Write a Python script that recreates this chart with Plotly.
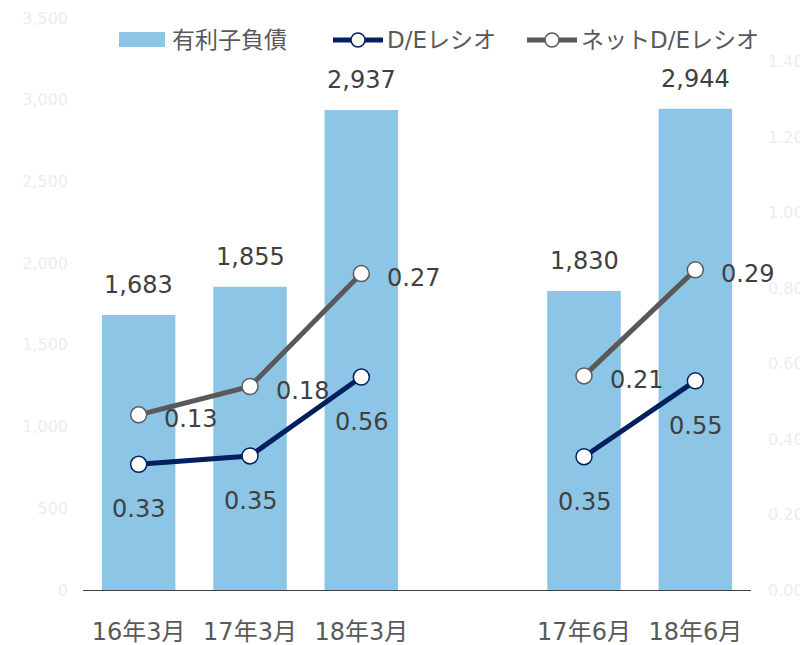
import plotly.graph_objects as go

categories = ["16年3月", "17年3月", "18年3月", " ", "17年6月", "18年6月"]
debt = [1683, 1855, 2937, None, 1830, 2944]
de_ratio = [0.333, 0.355, 0.564, None, 0.353, 0.554]
net_de_ratio = [0.131, 0.184, 0.274, None, 0.214, 0.294]
left_ticks = [0, 500, 1000, 1500, 2000, 2500, 3000, 3500]
right_ticks = [0.0, 0.2, 0.4, 0.6, 0.8, 1.0, 1.2, 1.4]
series_names = ["有利子負債", "D/Eレシオ", "ネットD/Eレシオ"]

# stacked line: net D/E drawn on top of D/E
net_stacked = [None if (a is None or b is None) else a + b for a, b in zip(de_ratio, net_de_ratio)]

FONT = "DejaVu Sans, Noto Sans CJK JP, sans-serif"
BAR = "#8DC5E6"
NAVY = "#002060"
GREY = "#595959"
LABEL = "#404040"
FAINT = "#EDEDED"

# the page body adds an 8px offset; figure is sized to fit the window
OFF = 8
W, H = 808 - OFF, 645 - OFF
ML, MR, MT, MB = 83 - OFF, 57, 18 - OFF, 55
PW, PH = W - ML - MR, H - MT - MB


def px(x):
    return (x - OFF - ML) / PW


def py(y):
    return (H - MB - (y - OFF)) / PH


fig = go.Figure()
fig.add_trace(go.Bar(
    x=categories, y=debt, name=series_names[0], marker=dict(color=BAR, line=dict(width=0)),
    yaxis="y", hoverinfo="skip", showlegend=False,
))
fig.add_trace(go.Scatter(
    x=categories, y=de_ratio, name=series_names[1], mode="lines+markers", yaxis="y2",
    line=dict(color=NAVY, width=5),
    marker=dict(size=16, color="white", line=dict(color=NAVY, width=1.5)),
    connectgaps=False, hoverinfo="skip", showlegend=False,
))
fig.add_trace(go.Scatter(
    x=categories, y=net_stacked, name=series_names[2], mode="lines+markers", yaxis="y2",
    line=dict(color=GREY, width=5),
    marker=dict(size=16, color="white", line=dict(color=GREY, width=1.5)),
    connectgaps=False, hoverinfo="skip", showlegend=False,
))

annotations = []
for c, v in zip(categories, debt):
    if v is None:
        continue
    annotations.append(dict(x=c, y=v, xref="x", yref="y", text=f"{v:,}", showarrow=False,
                            yanchor="middle", yshift=30, font=dict(size=24, color=LABEL, family=FONT)))
for c, v in zip(categories, de_ratio):
    if v is None:
        continue
    annotations.append(dict(x=c, y=v, xref="x", yref="y2", text=f"{v:.2f}", showarrow=False,
                            yanchor="middle", yshift=-45, font=dict(size=24, color=LABEL, family=FONT)))
for c, v, s in zip(categories, net_de_ratio, net_stacked):
    if v is None:
        continue
    annotations.append(dict(x=c, y=s, xref="x", yref="y2", text=f"{v:.2f}", showarrow=False,
                            xanchor="center", yanchor="middle", xshift=52, yshift=-4,
                            font=dict(size=24, color=LABEL, family=FONT)))

# custom legend (drawn in paper coordinates)
shapes = []
LY = 40
shapes.append(dict(type="rect", xref="paper", yref="paper", x0=px(119), x1=px(165),
                   y0=py(47), y1=py(32), fillcolor=BAR, line=dict(width=0), layer="above"))
legend_lines = [(333, NAVY), (527, GREY)]
for x0, col in legend_lines:
    shapes.append(dict(type="line", xref="paper", yref="paper", x0=px(x0), x1=px(x0 + 50),
                       y0=py(LY), y1=py(LY), line=dict(color=col, width=5), layer="above"))
    shapes.append(dict(type="circle", xref="paper", yref="paper", xsizemode="pixel",
                       ysizemode="pixel", xanchor=px(x0 + 25), yanchor=py(LY),
                       x0=-7, x1=7, y0=-7, y1=7, fillcolor="white",
                       line=dict(color=col, width=1.5), layer="above"))
legend_text_x = [170, 385, 579]
for name, tx in zip(series_names, legend_text_x):
    annotations.append(dict(x=px(tx), y=py(LY), xref="paper", yref="paper", text=name,
                            showarrow=False, xanchor="left", yanchor="middle",
                            font=dict(size=23, color=GREY, family=FONT)))

fig.update_layout(
    width=W, height=H,
    margin=dict(l=ML, r=MR, t=MT, b=MB, autoexpand=False),
    paper_bgcolor="white", plot_bgcolor="white",
    font=dict(family=FONT, color=LABEL),
    bargap=0.34,
    showlegend=False,
    xaxis=dict(type="category", categoryorder="array", categoryarray=categories,
               range=[-0.5, len(categories) - 0.5], fixedrange=True,
               showline=True, linecolor="#404040", linewidth=1, showgrid=False,
               ticks="", tickfont=dict(size=24, color=GREY, family=FONT),
               ticklabelstandoff=20, zeroline=False, automargin=False),
    yaxis=dict(range=[0, 3500], tickvals=left_ticks, tickformat=",", showgrid=False,
               zeroline=False, showline=False, tickfont=dict(size=16, color=FAINT, family=FONT),
               ticklabelstandoff=14, automargin=False),
    yaxis2=dict(range=[0, 1.515], tickvals=right_ticks, tickformat=".2f", overlaying="y",
                side="right", showgrid=False, zeroline=False, showline=False,
                tickfont=dict(size=16, color=FAINT, family=FONT), ticklabelstandoff=16,
                automargin=False),
    annotations=annotations,
    shapes=shapes,
)

fig.write_html("out.html")
